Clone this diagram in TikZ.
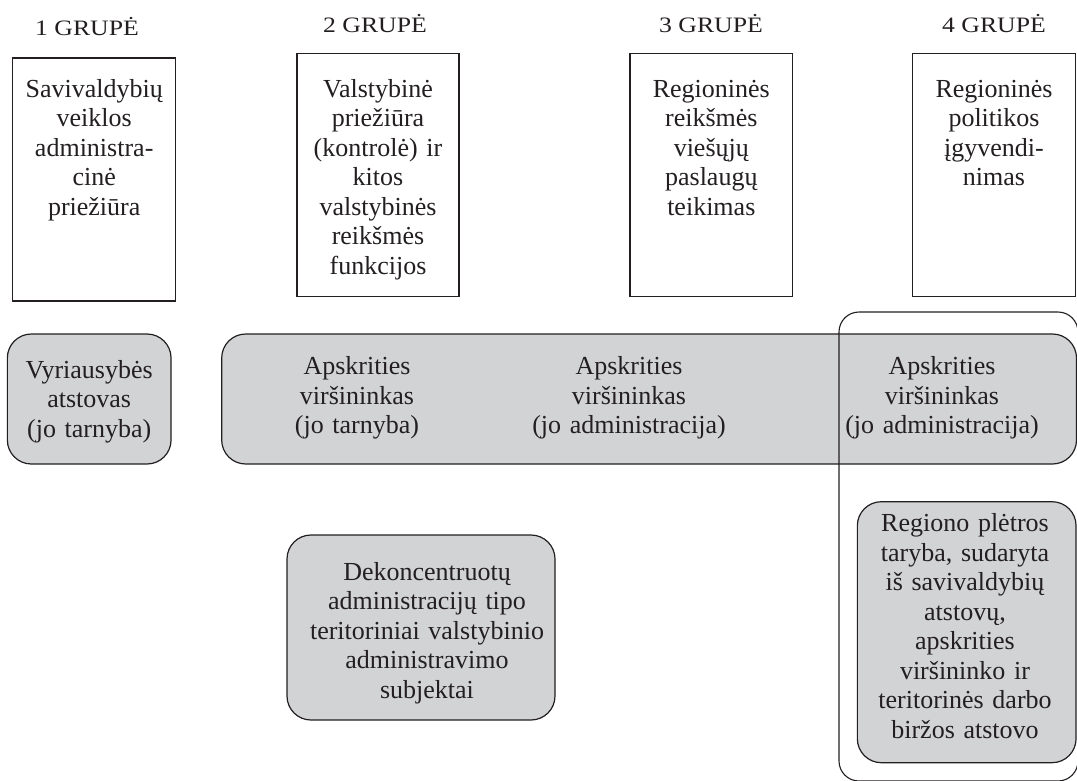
\documentclass[tikz,border=0pt]{standalone}
\usepackage{fontspec}
\setmainfont{Liberation Serif}
\newfontfamily\hdrfont[FakeStretch=1.17]{Liberation Serif}
\definecolor{ink}{HTML}{231F20}
\definecolor{boxgray}{HTML}{D2D3D5}
\tikzset{
  hdr/.style={font=\hdrfont\fontsize{22}{26}\selectfont, text=ink, inner sep=0pt, anchor=base},
  frame/.style={draw=ink, line width=1.1pt, inner sep=0pt},
  gbox/.style={draw=ink, fill=boxgray, line width=1.2pt, rounded corners=24pt, inner sep=0pt},
  grpframe/.style={draw=ink, line width=1.1pt, rounded corners=20pt, inner sep=0pt},
  txt/.style={font=\fontsize{26}{29.5}\selectfont, text=ink, align=center, text width=280pt, inner sep=0pt, anchor=base},
}
\begin{document}
\begin{tikzpicture}[x=1pt,y=-1pt]
\useasboundingbox (0,0) rectangle (1077,780);

% headers
\node[hdr] (h1) at (87,35) {1 GRUPĖ};
\node[hdr] (h2) at (375,32.5) {2 GRUPĖ};
\node[hdr] (h3) at (711,32.5) {3 GRUPĖ};
\node[hdr] (h4) at (994,32.5) {4 GRUPĖ};

% top boxes
\node[frame, minimum width=163pt, minimum height=243pt] (b1) at (94.2,179.5) {};
\node[txt] (t1) at (94.2,97) {Savivaldybių\\ veiklos\\ administra-\\ cinė\\ priežiūra};
\node[frame, minimum width=162pt, minimum height=242.7pt] (b2) at (378,174.7) {};
\node[txt] (t2) at (378,97) {Valstybinė\\ priežiūra\\ (kontrolė) ir\\ kitos\\ valstybinės\\ reikšmės\\ funkcijos};
\node[frame, minimum width=162.7pt, minimum height=242.7pt] (b3) at (711.3,174.7) {};
\node[txt] (t3) at (711.3,97) {Regioninės\\ reikšmės\\ viešųjų\\ paslaugų\\ teikimas};
\node[frame, minimum width=163.4pt, minimum height=242.7pt] (b4) at (994,174.7) {};
\node[txt] (t4) at (994,97) {Regioninės\\ politikos\\ įgyvendi-\\ nimas};

% second row
\node[gbox, minimum width=163.7pt, minimum height=130pt] (v) at (89.2,399) {};
\node[txt] (vt) at (89.2,378) {Vyriausybės\\ atstovas\\ (jo tarnyba)};
\node[gbox, minimum width=854.8pt, minimum height=130pt] (ap) at (649.1,399) {};
\node[txt] (a1) at (357,374.5) {Apskrities\\ viršininkas\\ (jo tarnyba)};
\node[txt] (a2) at (629,374.5) {Apskrities\\ viršininkas\\ (jo administracija)};
\node[txt] (a3) at (942,374.5) {Apskrities\\ viršininkas\\ (jo administracija)};

% lower boxes
\node[gbox, minimum width=268pt, minimum height=185pt] (dk) at (421,627.5) {};
\node[txt] (dkt) at (427,580) {Dekoncentruotų\\ administracijų tipo\\ teritoriniai valstybinio\\ administravimo\\ subjektai};
\node[gbox, minimum width=218.7pt, minimum height=261pt] (rg) at (966.7,632.2) {};
\node[txt] (rgt) at (965,531.7) {Regiono plėtros\\ taryba, sudaryta\\ iš savivaldybių\\ atstovų,\\ apskrities\\ viršininko ir\\ teritorinės darbo\\ biržos atstovo};

% grouping frame
\node[grpframe, minimum width=239pt, minimum height=469pt] (grp) at (958.5,546.5) {};
\end{tikzpicture}
\end{document}
